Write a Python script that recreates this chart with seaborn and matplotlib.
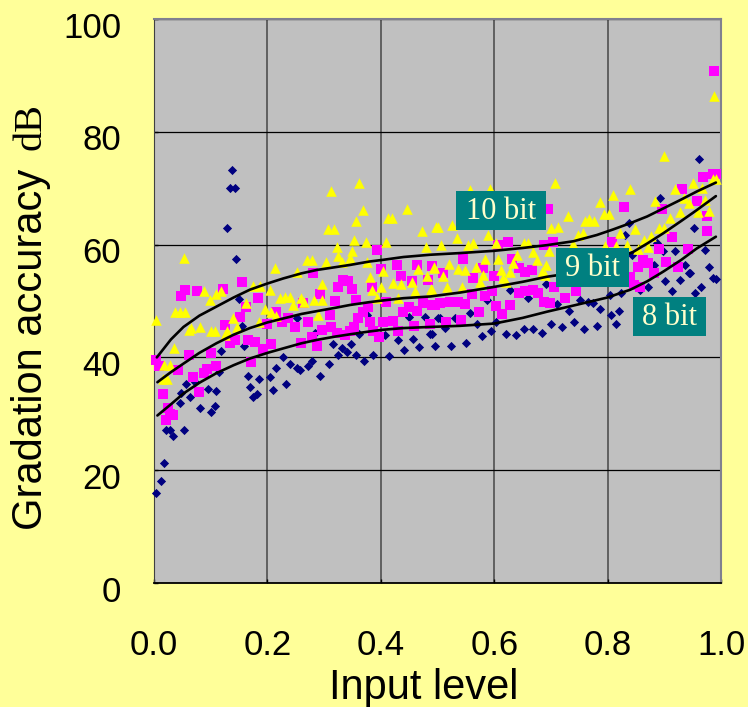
import pandas as pd
import matplotlib.pyplot as plt
import matplotlib.patches as mpatches
import matplotlib.transforms as mtrans
import seaborn as sns

# Values
bit8_x = [.004, .012, .018, .022, .028, .034, .053, .045, .048, .056, .063, .073, .081, .096, .11, .10, .108, .115, .118, .129, .134, .142, .138, .145, .15, .155, .159, .165, .17, .174, .181, .186, .205, .216, .228, .21, .233, .24, .252, .257, .272, .279, .293, .309, .315, .324, .331, .34, .347, .356, .37, .386, .414, .431, .441, .457, .468, .486, .496, .362, .449, .478, .5, .407, .375, .284, .253,
          .523, .55, .579, .594, .621, .638, .653, .669, .684, .7, .72, .74, .758, .782, .814, .806, .82, .787, .752, .732, .71, .775, .766, .823, .804, .872, .857, .901, .913, .927, .955, .964, .986, .992, .979, .943, .945, .937, .972, .919, .898, .882, .887, .843, .837, .892, .953, .961, .831, .504, .531, .513, .569, .557, .587, .604, .628, .66, .691, .49]
bit8_y = [16, 18, 21.3, 27.1, 27.1, 26.1, 27.2, 32, 33.6, 35.2, 33, 35.7, 31.1, 34.4, 34, 30.4, 31.3, 37.5, 41.2, 62.9, 70.1, 70.1, 73.3, 57.5, 50.4, 45.6, 42, 36.7, 34.7, 32.9, 33.5, 36.1, 36.6, 38.2, 40.1, 34.2, 35.2, 38.9, 38.1, 37.8, 38.4, 39.4, 36.7, 38.9, 42.3, 40.5, 41.7, 41, 42.4, 40.5, 39.4, 40.4, 40.2, 43.1, 41.4, 43.2, 41.9, 44.1, 42.1, 44.1, 47.2, 47.2, 47, 44, 47.5, 44.3, 46.9,
          42.1, 42.5, 43.8, 44.6, 44.1, 43.9, 45, 45.1, 44.4, 45.9, 45.4, 46.2, 45, 45.5, 45.9, 47.5, 48.3, 48.5, 50.1, 48.3, 49.5, 49.6, 49.9, 51.4, 51.1, 52.5, 52, 53.6, 51.7, 53.8, 51.4, 52.5, 54, 53.9, 56.1, 54.9, 55, 56.4, 59, 58.8, 58.9, 56.4, 60.2, 58.2, 63.8, 68.3, 62.9, 75.2, 61.7, 46.9, 46.9, 45.2, 45.9, 47.8, 50.2, 46.3, 52, 50.6, 53, 44.1]

bit9_x = [.004, .009, .015, .025, .034, .021, .029, .043, .061, .068, .08, .088, .094, .109, .048, .054, .076, .121, .125, .134, .143, .156, .151, .162, .183, .165, .178, .193, .206, .171, .1, .199, .216, .225, .237, .249, .263, .272, .281, .26, .279, .287, .296, .292, .31, .313, .319, .325, .334, .342, .349, .357, .322, .337, .346, .353, .36, .369, .378, .381, .384, .393, .4, .387, .396, .403, .422, .431, .409, .428, .436, .455, .463, .49, .483, .44, .449, .463, .475, .496, .459, .486,
          .49, .504, .522, .537, .549, .515, .541, .574, .51, .545, .563, .581, .56, .584, .596, .6, .607, .624, .631, .604, .613, .628, .643, .654, .669, .678, .687, .699, .643, .654, .666, .687, .703, .695, .706, .725, .744, .829, .807, .84, .854, .863, .872, .881, .846, .857, .89, .903, .925, .913, .941, .896, .932, .957, .975, .975, .968, .986, .992, .987]
bit9_y = [39.5, 38.4, 33.5, 31, 29.7, 28.9, 30, 37.8, 40.4, 36.6, 33.8, 37.3, 38, 38.4, 50.8, 52, 51.7, 52.1, 45.7, 42.5, 43, 53.3, 47.2, 49, 50.6, 43.1, 42.7, 41.5, 42.4, 39.2, 40.8, 45.9, 48.1, 46.3, 46.9, 45.4, 49.6, 46.2, 55, 42.5, 43.6, 42, 44.9, 51.2, 47.5, 45.4, 50, 52.4, 53.7, 53.5, 52.1, 50.2, 44.3, 44, 44.6, 45.4, 46.9, 48.1, 49, 46.3, 52.5, 59, 55.7, 44.6, 43.7, 46.3, 46.5, 44.7, 49.9, 56.3, 54.5, 53.5, 56.3, 56.2, 53.7, 48, 48.9, 48.2, 49.6, 49.3, 45.5, 46,
          49.3, 49.6, 49.9, 49.8, 49.4, 46.2, 46.6, 48, 54.9, 57.4, 54, 55.8, 51.2, 50.8, 51.7, 54.5, 59.9, 60.4, 57.4, 49.2, 47.7, 49.3, 51.4, 51.7, 52, 51.4, 49.9, 49.6, 55.8, 55.2, 55.5, 59.9, 60.4, 66.4, 52.4, 50.6, 51.8, 66.6, 60.5, 54.3, 56.1, 57.3, 56.7, 54.9, 52.8, 52.5, 59.2, 56.9, 56.1, 61.4, 59.2, 66.3, 69.8, 67.7, 62.4, 65, 72, 72.5, 72.5, 90.7]

bit10_x = [.004, .018, .028, .016, .023, .035, .037, .046, .055, .053, .061, .066, .081, .089, .099, .11, .118, .1, .108, .128, .125, .139, .146, .163, .175, .187, .205, .186, .196, .213, .215, .207, .222, .231, .239, .246, .253, .26, .265, .27, .278, .282, .296, .289, .297, .303, .306, .318, .312, .322, .325, .331, .346, .349, .353, .357, .362, .369, .374, .376, .381, .384, .393, .4, .404, .409, .412, .419, .446, .422, .436, .43, .455, .46, .466, .472, .479, .482, .489, .494, .497,
           .5, .526, .558, .592, .506, .534, .553, .563, .589, .604, .493, .52, .537, .548, .51, .568, .583, .607, .612, .516, .543, .575, .581, .49, .621, .615, .628, .634, .641, .652, .66, .669, .676, .684, .69, .692, .697, .701, .713, .707, .731, .739, .748, .756, .76, .768, .776, .787, .794, .803, .81, .795, .815, .822, .834, .84, .848, .854, .864, .872, .876, .884, .89, .9, .9, .91, .919, .927, .934, .944, .951, .96, .966, .971, .979, .986, .992, .987]
bit10_y = [46.6, 38.7, 38.7, 36.1, 36.1, 41.6, 48.1, 48.1, 48.1, 57.7, 44.9, 45.3, 45.4, 51.7, 50.2, 51.2, 51.7, 44.6, 44.6, 44.6, 44, 47, 45.4, 49.6, 52.7, 52.7, 52, 46.3, 48.5, 55.8, 47.4, 48.1, 50.5, 50.7, 50.7, 49.3, 55.2, 50.5, 49.9, 57.3, 57.3, 50.2, 50.1, 47.6, 53.1, 56.9, 62.8, 62.8, 69.5, 59.6, 58, 57, 57.6, 58.9, 60.8, 64.2, 70.9, 66.1, 60.5, 56.9, 54.2, 52, 50.5, 52.4, 55.4, 60.5, 64.7, 64.7, 66.3, 53.2, 53, 50.6, 53.3, 51.8, 55.6, 62.4, 59.6, 54.4, 52.1, 56, 63.1,
           63.1, 63.4, 69.6, 69.9, 59.9, 61.2, 60, 60.2, 61.7, 60.3, 55.9, 56.5, 55.7, 55.5, 54.5, 56.1, 57.4, 57.4, 55.5, 52.5, 52.5, 53.3, 54.6, 52, 53.4, 54, 55.2, 56.7, 58.2, 60.2, 60.2, 58.7, 57.3, 55.2, 54.6, 56.4, 58.9, 62.9, 63.1, 71, 65, 60.1, 61.7, 62, 64.2, 64.5, 64.1, 67.5, 65.5, 65.5, 68.8, 59.8, 59.8, 62, 60, 69.8, 62.7, 59.3, 60.8, 59.6, 61.6, 67.8, 63, 62.9, 75.7, 64.7, 69.8, 65.7, 68.2, 67.4, 71, 65.7, 70, 67.9, 66, 71.6, 71.6, 86.4]

trend10_x = [.005, .03, .052, .08, .11, .14, .169, .2, .228, .26, .287, .32, .346, .38, .404, .44, .487, .54, .6, .65, .693, .74, .781, .81, .84, .87, .898, .93, .957, .991]
trend10_y = [40, 43.2, 45.4, 47.4, 49, 50.6, 52, 53.1, 54, 54.9, 55.5, 56, 56.4, 57, 57.3, 57.8, 58.2, 58.5, 58.9, 59.4, 59.9, 60.6, 61.7, 62.7, 63.8, 65, 66.4, 68, 69.4, 71]
trend9_x = [.006, .03, .052, .08, .11, .14, .169, .2, .228, .26, .287, .32, .346, .38, .404, .44, .487, .54, .6, .65, .693, .74, .79, .845, .87, .898, .93, .957, .991]
trend9_y = [35.6, 37.4, 38.9, 40.8, 42.5, 44, 45.2, 46.2, 46.9, 47.7, 48.2, 48.8, 49.3, 49.8, 50.1, 50.5, 50.8, 51.5, 52.5, 53.4, 54.3, 55, 56.5, 58.7, 60.2, 62, 64.2, 66.1, 68.6]
trend8_x = [.006, .03, .052, .08, .11, .14, .169, .2, .228, .26, .287, .32, .346, .38, .404, .44, .487, .54, .6, .65, .693, .74, .799, .84, .87, .898, .93, .957, .991]
trend8_y = [29.7, 31.7, 33.6, 35.5, 37.2, 38.6, 39.8, 40.8, 41.6, 42.5, 43.1, 43.7, 44.1, 44.6, 44.9, 45.2, 45.4, 45.6, 46, 47, 48.1, 49.2, 50.6, 52, 53.5, 55.2, 57.3, 59.3, 61.4]

labels = ['10 bit', '9 bit', '8 bit']
label_x = [.612, .773, .909]
label_y = [66.1, 55.9, 47.3]
label_w = [.159, .129, .129]

tick_x = [0.0, 0.2, 0.4, 0.6, 0.8, 1.0]
tick_y = [0, 20, 40, 60, 80, 100]

sns.set_style("white")
plt.rcParams['font.family'] = ['Liberation Sans', 'DejaVu Sans']

fig = plt.figure(figsize=(7.48, 7.07), dpi=100, facecolor='#FFFF99')
ax = fig.add_axes([154 / 748, 1 - 583 / 707, 567 / 748, 564 / 707], facecolor='#C0C0C0')

sns.scatterplot(x=bit8_x, y=bit8_y, marker='D', s=22, color='#000080', linewidth=0, ax=ax, zorder=3, clip_on=False)
sns.scatterplot(x=bit9_x, y=bit9_y, marker='s', s=44, color='#FF00FF', linewidth=0, ax=ax, zorder=4, clip_on=False)
sns.scatterplot(x=bit10_x, y=bit10_y, marker='^', s=58, color='#FFFF00', linewidth=0, ax=ax, zorder=5, clip_on=False)

for tx, ty in [(trend10_x, trend10_y), (trend9_x, trend9_y), (trend8_x, trend8_y)]:
    sns.lineplot(x=tx, y=ty, color='black', linewidth=1.9, sort=False, estimator=None, ax=ax, zorder=6)

# teal boxes, 39 px high
box_h = 6.9
for name, lx, ly, w in zip(labels, label_x, label_y, label_w):
    ax.add_patch(mpatches.Rectangle((lx - w / 2, ly - box_h / 2), w, box_h, fc='#008080', ec='none', zorder=7))
    ax.text(lx, ly - 0.2, name, ha='center', va='center', family='Liberation Serif', fontsize=22,
            color='#FFFFCC', zorder=8)

ax.set_xlim(0, 1)
ax.set_ylim(0, 100)
ax.set_xticks(tick_x)
ax.set_yticks(tick_y)
ax.set_xticklabels([f'{t:.1f}' for t in tick_x])
ax.set_axisbelow(True)
ax.grid(True, axis='x', color='#505050', linewidth=1.2)
ax.grid(True, axis='y', color='black', linewidth=0.9)
ax.spines['left'].set_color('#404040')
ax.spines['bottom'].set_color('black')
ax.spines['bottom'].set_linewidth(1.3)
for side in ['top', 'right']:
    ax.spines[side].set_color('#808090')
    ax.spines[side].set_linewidth(1.5)

ax.tick_params(axis='x', labelsize=25, direction='in', length=3, width=1, color='black', labelcolor='black', bottom=True, pad=33)
ax.tick_params(axis='y', labelsize=25, direction='in', length=3, width=1, color='black', labelcolor='black', left=True, pad=23.5)
# the y tick labels sit a little below their ticks
shift = mtrans.ScaledTranslation(0, -5.5 / 72 * 0.72, fig.dpi_scale_trans)
for lab in ax.get_yticklabels():
    lab.set_transform(lab.get_transform() + shift)

ax.set_xlabel('Input level', fontsize=30, color='black')
ax.xaxis.set_label_coords((424 - 154) / 567, -0.151)

fig.text(31 / 748, 1 - 530 / 707, 'Gradation accuracy', rotation=90, ha='center', va='bottom', fontsize=30, color='black')
fig.text(31 / 748, 1 - 103 / 707, 'dB', rotation=90, ha='center', va='top', family='Liberation Serif', fontsize=29, color='black')

plt.savefig('out.png', dpi=100, facecolor=fig.get_facecolor())
